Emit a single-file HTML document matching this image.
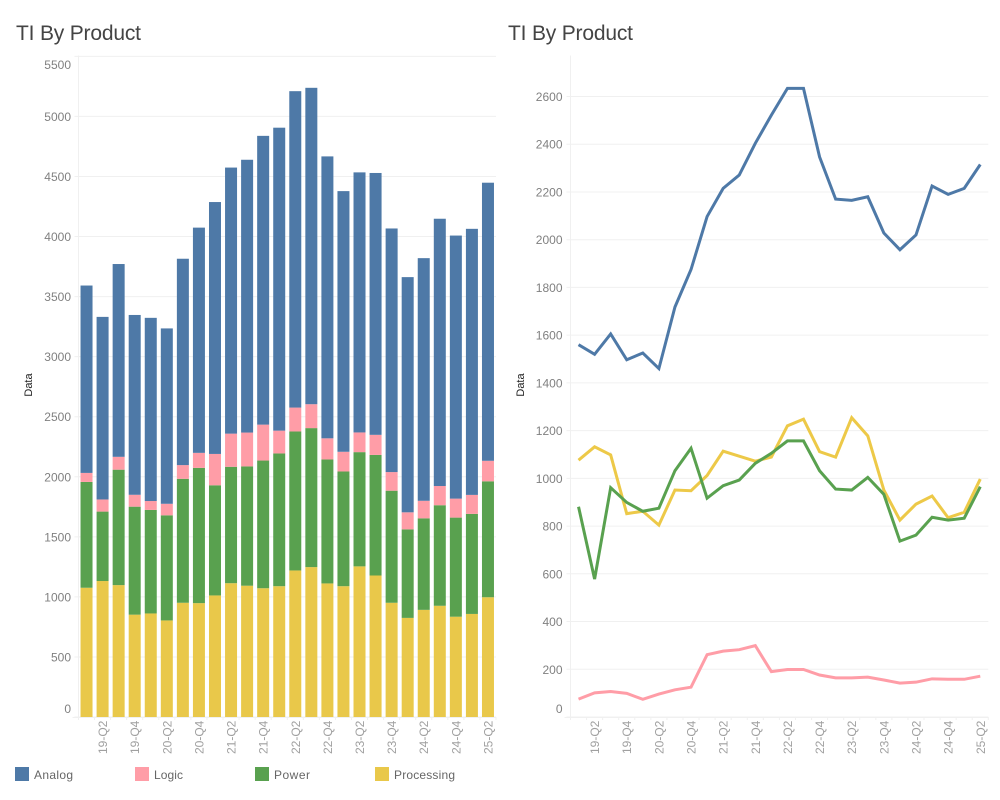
<!DOCTYPE html>
<html lang="en">
<head>
<meta charset="utf-8">
<title>TI By Product</title>
<style>
html,body{margin:0;padding:0;background:#fff;width:1000px;height:800px;overflow:hidden}
svg{display:block;font-family:"Liberation Sans",sans-serif}
.title{font-size:21px;fill:#444}
.tick{font-size:12px;fill:#808080}
.xtick{font-size:12px;fill:#a0a0a0}
.axis-title{font-size:11px;fill:#222}
.legend-text{font-size:12px;fill:#666}
</style>
</head>
<body>
<svg id="chart" width="1000" height="800" viewBox="0 0 1000 800">
  <text x="16" y="40" class="title" textLength="125">TI By Product</text>
  <text x="508" y="40" class="title" textLength="125">TI By Product</text>
  <g id="left-chart"></g>
  <g id="right-chart"></g>
  <text transform="translate(32,385) rotate(-90)" text-anchor="middle" class="axis-title">Data</text>
  <text transform="translate(524,385) rotate(-90)" text-anchor="middle" class="axis-title">Data</text>
  <g>
    <g><rect x="15" y="767" width="14" height="14" fill="#4e79a7"/><text x="34" y="779" class="legend-text" textLength="39">Analog</text></g>
    <g><rect x="135" y="767" width="14" height="14" fill="#ff9da7"/><text x="154" y="779" class="legend-text" textLength="29">Logic</text></g>
    <g><rect x="255" y="767" width="14" height="14" fill="#59a14f"/><text x="274" y="779" class="legend-text" textLength="36">Power</text></g>
    <g><rect x="375" y="767" width="14" height="14" fill="#e9c84a"/><text x="394" y="779" class="legend-text" textLength="61">Processing</text></g>
  </g>
</svg>
<script>
const categories = ["19-Q1","19-Q2","19-Q3","19-Q4","20-Q1","20-Q2","20-Q3","20-Q4","21-Q1","21-Q2","21-Q3","21-Q4","22-Q1","22-Q2","22-Q3","22-Q4","23-Q1","23-Q2","23-Q3","23-Q4","24-Q1","24-Q2","24-Q3","24-Q4","25-Q1","25-Q2"];
const analog = [1560,1520,1605,1497,1525,1460,1718,1875,2097,2215,2271,2404,2522,2634,2634,2347,2170,2165,2180,2028,1958,2020,2225,2190,2215,2315];
const logic = [75,101,107,99,74,96,114,125,261,276,282,299,190,199,199,176,164,164,167,155,142,146,160,158,158,171];
const power = [881,578,961,899,862,875,1032,1126,917,969,993,1063,1105,1157,1157,1032,955,951,1004,933,737,762,837,825,833,965];
const processing = [1076,1132,1098,852,862,804,951,948,1012,1114,1093,1072,1089,1220,1248,1112,1089,1254,1178,951,825,892,926,835,858,997];
const barTicks = [0,500,1000,1500,2000,2500,3000,3500,4000,4500,5000,5500];
const lineTicks = [0,200,400,600,800,1000,1200,1400,1600,1800,2000,2200,2400,2600];

const NS = "http://www.w3.org/2000/svg";
const seriesOrder = ["processing","power","logic","analog"];
const seriesValues = {processing: processing, power: power, logic: logic, analog: analog};
const lineColors = {analog:"#4e79a7", logic:"#ff9da7", power:"#59a14f", processing:"#edc948"};
const barColors = {analog:"#4e79a7", logic:"#ff9da7", power:"#59a14f", processing:"#e9c84a"};
const GRID = "#f0f0f0";
const BOTTOM = 717, TOP = 55.5;

function make(parent, tag, attrs, text){
  const el = document.createElementNS(NS, tag);
  for (const k in attrs) el.setAttribute(k, attrs[k]);
  if (text !== undefined) el.textContent = text;
  parent.appendChild(el);
  return el;
}
function bandX(left, right, i){ return left + (right-left)*(i+0.5)/categories.length; }

function drawFrame(g, left, right, yScale, ticks, labelRight, prefix){
  ticks.forEach(function(t){
    const y = yScale(t);
    const gl = make(g, "line", {x1:left-4, x2:right, y1:y, y2:y, stroke:GRID, "stroke-width":1});
    
    
    let ly = y + 4.5;
    if (ly < 69 && y < 60) ly = y + 12.5;
    if (t === 0) ly = y - 4;
    const lb = make(g, "text", {x:labelRight, y:ly, "text-anchor":"end", "class":"tick"}, String(t));
    
    
  });
  const va = make(g, "line", {x1:left, x2:left, y1:TOP, y2:BOTTOM+3, stroke:GRID, "stroke-width":1});
  
  
  const ha = make(g, "line", {x1:left-6, x2:right, y1:BOTTOM+0.5, y2:BOTTOM+0.5, stroke:GRID, "stroke-width":1});
  
  
  categories.forEach(function(c, i){
    const tx = left + (right-left)*(i+1)/categories.length;
    const tk = make(g, "line", {x1:tx, x2:tx, y1:BOTTOM, y2:BOTTOM+3, stroke:GRID, "stroke-width":1});
    
    
  });
}
function drawXLabels(g, left, right, prefix){
  categories.forEach(function(c, i){
    if (i % 2 === 0) return;
    const x = bandX(left, right, i) + 4.5;
    const t = make(g, "text", {transform:"translate("+x+",754) rotate(-90)", "class":"xtick"}, c);
    
    
  });
}

/* stacked bars */
(function(){
  const g = document.getElementById("left-chart");
  const left = 78.5, right = 496, barW = 12;
  const y = function(v){ return BOTTOM - v * (BOTTOM - 116.4) / 5000; };
  drawFrame(g, left, right, y, barTicks, 71, "bar");
  categories.forEach(function(c, i){
    let acc = 0;
    const cx = bandX(left, right, i);
    seriesOrder.forEach(function(s){
      const v = seriesValues[s][i];
      const r = make(g, "rect", {x:cx-barW/2, y:y(acc+v), width:barW, height:y(acc)-y(acc+v), fill:barColors[s]});
      
      
      acc += v;
    });
  });
  drawXLabels(g, left, right, "bar");
})();

/* lines */
(function(){
  const g = document.getElementById("right-chart");
  const left = 570.5, right = 988.3;
  const y = function(v){ return BOTTOM - v * (BOTTOM - 96.5) / 2600; };
  drawFrame(g, left, right, y, lineTicks, 562.5, "line");
  ["analog","logic","processing","power"].forEach(function(s){
    const pts = seriesValues[s].map(function(v, i){
      return bandX(left, right, i).toFixed(2) + "," + y(v).toFixed(2);
    }).join(" ");
    const p = make(g, "polyline", {points:pts, fill:"none", stroke:lineColors[s], "stroke-width":3, "stroke-linejoin":"miter", "stroke-linecap":"butt"});
    
    
  });
  drawXLabels(g, left, right, "line");
})();
</script>
</body>
</html>
